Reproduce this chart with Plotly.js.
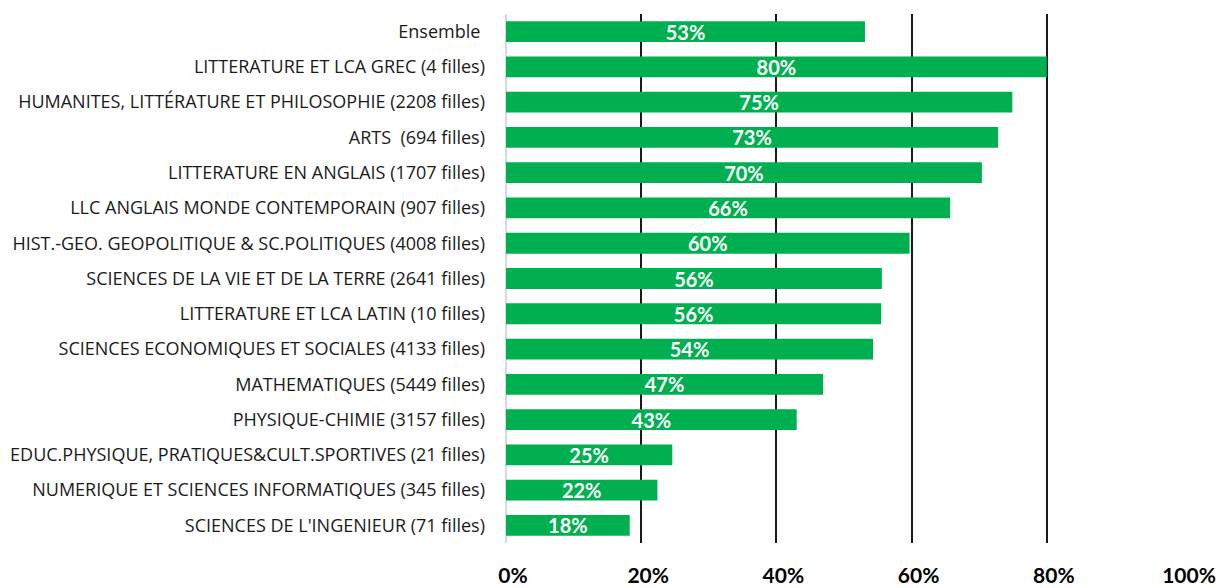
<!DOCTYPE html>
<html>
<head>
<meta charset="utf-8">
<script src="https://cdn.plot.ly/plotly-3.0.1.min.js"></script>
<style>html,body{margin:0;padding:0;background:#fff;}#chart{width:1220px;height:588px;}</style>
</head>
<body>
<div id="chart"></div>
<script>
const categories = [
  "Ensemble\u00a0",
  "LITTERATURE ET LCA GREC (4 filles)",
  "HUMANITES, LITTÉRATURE ET PHILOSOPHIE (2208 filles)",
  "ARTS\u00a0 (694 filles)",
  "LITTERATURE EN ANGLAIS (1707 filles)",
  "LLC ANGLAIS MONDE CONTEMPORAIN (907 filles)",
  "HIST.-GEO. GEOPOLITIQUE & SC.POLITIQUES (4008 filles)",
  "SCIENCES DE LA VIE ET DE LA TERRE (2641 filles)",
  "LITTERATURE ET LCA LATIN (10 filles)",
  "SCIENCES ECONOMIQUES ET SOCIALES (4133 filles)",
  "MATHEMATIQUES (5449 filles)",
  "PHYSIQUE-CHIMIE (3157 filles)",
  "EDUC.PHYSIQUE, PRATIQUES&CULT.SPORTIVES (21 filles)",
  "NUMERIQUE ET SCIENCES INFORMATIQUES (345 filles)",
  "SCIENCES DE L'INGENIEUR (71 filles)"
];
const shareGirls = [0.531, 0.80, 0.749, 0.728, 0.704, 0.657, 0.597, 0.556, 0.555, 0.543, 0.469, 0.430, 0.246, 0.224, 0.183];
const tickValues = [0, 0.2, 0.4, 0.6, 0.8, 1.0];
const tickLabels = ["0%", "20%", "40%", "60%", "80%", "100%"];

const trace = {
  type: 'bar',
  orientation: 'h',
  y: categories,
  x: shareGirls,
  marker: {color: '#00B050'},
  texttemplate: '%{x:.0%}',
  textposition: 'inside',
  insidetextanchor: 'middle',
  constraintext: 'none',
  textangle: 0,
  textfont: {family: 'Lato', size: 20, color: '#ffffff', weight: 'bold'},
  hoverinfo: 'none'
};

const layout = {
  width: 1220, height: 588,
  margin: {l: 506, r: 38, t: 14, b: 45},
  paper_bgcolor: '#ffffff', plot_bgcolor: '#ffffff',
  showlegend: false,
  bargap: 0.41,
  font: {family: 'Lato', color: '#000000'},
  xaxis: {
    range: [0, 1], tickvals: tickValues, ticktext: tickLabels,
    showgrid: true, gridcolor: '#1a1a1a', gridwidth: 2,
    zeroline: true, zerolinecolor: '#d9d9d9', zerolinewidth: 2,
    ticks: '', ticklabelstandoff: 18, ticklabelshift: 7,
    tickfont: {family: 'Lato', size: 21, color: '#000000', weight: 'bold'},
    fixedrange: true
  },
  yaxis: {
    autorange: 'reversed', type: 'category',
    showgrid: false, zeroline: false, showline: false,
    ticks: '', ticklabelstandoff: 20,
    tickfont: {family: 'Open Sans', size: 18, color: '#1a1a1a'},
    fixedrange: true
  }
};

Plotly.newPlot('chart', [trace], layout, {displayModeBar: false, staticPlot: true});
</script>
</body>
</html>
